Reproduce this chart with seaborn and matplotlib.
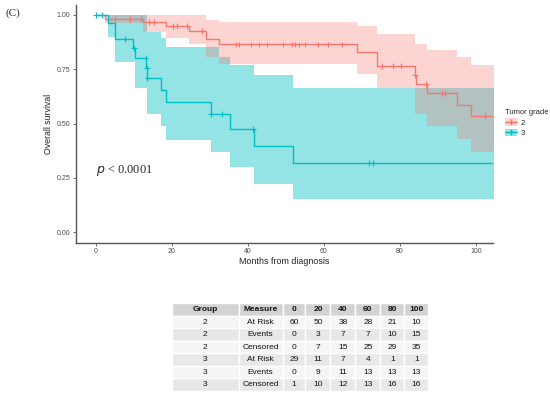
import numpy as np
import pandas as pd
import matplotlib
matplotlib.use("Agg")
import matplotlib.pyplot as plt
import seaborn as sns
from matplotlib.patches import Patch
from matplotlib.lines import Line2D

# ---------------- data ----------------
grades = ["2", "3"]
colors = {"2": "#F8766D", "3": "#00BFC4"}

times_2 = [0, 2.3, 12.4, 18.5, 24.6, 29.0, 32.4, 68.8, 74.1, 84.0, 84.3, 87.1, 95.0, 98.8, 105.0]
surv_2 = [1.0, 0.983, 0.967, 0.948, 0.928, 0.889, 0.864, 0.830, 0.763, 0.724, 0.683, 0.640, 0.585, 0.533, 0.533]
lower_2 = [1.0, 0.963, 0.923, 0.892, 0.865, 0.808, 0.776, 0.728, 0.666, 0.545, 0.545, 0.491, 0.428, 0.371, 0.371]
upper_2 = [1.0, 1.0, 1.0, 1.0, 1.0, 0.977, 0.966, 0.947, 0.912, 0.866, 0.866, 0.837, 0.806, 0.771, 0.771]
cens_2 = [5.1, 9.0, 12.0, 14.0, 15.2, 20.4, 21.4, 23.9, 27.9, 36.8, 37.8, 40.9, 43.0, 45.0,
          49.2, 51.6, 52.3, 53.6, 55.1, 58.4, 61.1, 64.7, 75.3, 78.3, 80.3, 84.1, 86.9,
          91.1, 91.9, 102.4]

times_3 = [0, 3.3, 5.1, 9.9, 10.2, 13.3, 13.5, 17.2, 18.5, 30.3, 35.3, 41.7, 51.8, 105.0]
surv_3 = [1.0, 0.963, 0.889, 0.848, 0.802, 0.758, 0.710, 0.655, 0.599, 0.544, 0.476, 0.399, 0.318, 0.318]
band_times_3 = [0, 3.3, 5.1, 10.2, 13.4, 17.2, 18.5, 30.3, 32.4, 35.3, 41.7, 51.8, 105.0]
lower_3 = [1.0, 0.899, 0.784, 0.666, 0.545, 0.487, 0.425, 0.369, 0.369, 0.300, 0.221, 0.152, 0.152]
upper_3 = [1.0, 1.0, 1.0, 1.0, 0.923, 0.892, 0.854, 0.854, 0.808, 0.768, 0.722, 0.664, 0.664]
cens_3 = [0.1, 1.7, 7.8, 10.0, 13.1, 13.4, 13.6, 30.4, 33.2, 41.5, 72.0, 73.0]

x_ticks = [0, 20, 40, 60, 80, 100]
y_ticks = [0.0, 0.25, 0.50, 0.75, 1.00]
y_ticklabels = ["0.00", "0.25", "0.50", "0.75", "1.00"]

table_columns = ["Group", "Measure", "0", "20", "40", "60", "80", "100"]
table_group = ["2", "2", "2", "3", "3", "3"]
table_measure = ["At Risk", "Events", "Censored", "At Risk", "Events", "Censored"]
at_risk_2 = [60, 50, 38, 28, 21, 10]
events_2 = [0, 3, 7, 7, 10, 15]
censored_2 = [0, 7, 15, 25, 29, 35]
at_risk_3 = [29, 11, 7, 4, 1, 1]
events_3 = [0, 9, 11, 13, 13, 13]
censored_3 = [1, 10, 12, 13, 16, 16]

# ---------------- frames ----------------
curves = pd.concat([
    pd.DataFrame({"time": times_2, "surv": surv_2, "grade": "2"}),
    pd.DataFrame({"time": times_3, "surv": surv_3, "grade": "3"}),
], ignore_index=True)

def step_at(ts, ss, t):
    idx = np.searchsorted(np.asarray(ts), np.asarray(t), side="right") - 1
    return np.asarray(ss)[idx]

cens = pd.concat([
    pd.DataFrame({"time": cens_2, "surv": step_at(times_2, surv_2, cens_2), "grade": "2"}),
    pd.DataFrame({"time": cens_3, "surv": step_at(times_3, surv_3, cens_3), "grade": "3"}),
], ignore_index=True)

# ---------------- figure ----------------
sns.set_theme(style="ticks")
plt.rcParams["font.family"] = ["Liberation Sans", "DejaVu Sans"]

fig = plt.figure(figsize=(5.5, 4.01), dpi=100)
ax = fig.add_axes([76 / 550, 1 - 242.7 / 401, (493.3 - 76) / 550, (242.7 - 4.5) / 401])

alpha_2, alpha_3 = 0.3, 0.42
ax.fill_between(band_times_3, lower_3, upper_3, step="post", color=colors["3"], alpha=alpha_3, lw=0, zorder=1)
ax.fill_between(times_2, lower_2, upper_2, step="post", color=colors["2"], alpha=alpha_2, lw=0, zorder=1.1)

sns.lineplot(data=curves, x="time", y="surv", hue="grade", palette=colors,
             drawstyle="steps-post", estimator=None, sort=False, lw=1.0,
             legend=False, ax=ax, zorder=3)
sns.scatterplot(data=cens, x="time", y="surv", hue="grade", palette=colors,
                marker="+", s=18, linewidth=0.8, legend=False, ax=ax, zorder=4)

ax.set_xlim(-5.2, 104.6)
ax.set_ylim(-0.048, 1.048)
ax.set_xticks(x_ticks)
ax.set_yticks(y_ticks)
ax.set_yticklabels(y_ticklabels)
for s in ["top", "right"]:
    ax.spines[s].set_visible(False)
for s in ["left", "bottom"]:
    ax.spines[s].set_color("#555555")
    ax.spines[s].set_linewidth(1.0)
ax.tick_params(axis="both", labelsize=5, colors="#555555", labelcolor="#4D4D4D",
               length=2, width=0.6, pad=2)
ax.set_xlabel("Months from diagnosis", fontsize=6.4, labelpad=1.5, color="#222222")
ax.set_ylabel("Overall survival", fontsize=6.3, labelpad=3, color="#222222")

ax.text(0, 0.283, r"$p$ < 0.0001", fontsize=9, va="center", ha="left",
        family=["Liberation Serif", "DejaVu Serif"])
fig.text(5 / 550, 1 - 13 / 401, "(C)", fontsize=8, va="center", ha="left",
         family=["Liberation Serif", "DejaVu Serif"])

handles = [(Patch(facecolor=colors[g], alpha=alpha_2 if g == "2" else alpha_3, lw=0),
            Line2D([], [], color=colors[g], marker="+", markersize=4.5, lw=1.0))
           for g in grades]
leg = fig.legend(handles, grades, title="Tumor grade", loc="upper left",
                 bbox_to_anchor=(500 / 550, 1 - 104 / 401), frameon=False,
                 fontsize=5.5, title_fontsize=5.5, handlelength=1.5, handleheight=1.2,
                 handletextpad=0.5, labelspacing=0.25, borderpad=0.2)
leg._legend_box.align = "left"

# ---------------- table ----------------
axt = fig.add_axes([171.7 / 550, 1 - 391 / 401, (428.3 - 171.7) / 550, (391 - 303.3) / 401])
axt.axis("off")
value_rows = [at_risk_2, events_2, censored_2, at_risk_3, events_3, censored_3]
cell_text = [[g, m] + [str(v) for v in vals]
             for g, m, vals in zip(table_group, table_measure, value_rows)]
row_colors = ["#F5F5F5", "#E8E8E8"]
cell_colours = [[row_colors[i % 2]] * len(table_columns) for i in range(len(cell_text))]
col_widths = np.array([67, 44, 23, 25, 25, 25, 24, 24], dtype=float)
col_widths = col_widths / col_widths.sum()
tbl = axt.table(cellText=cell_text, colLabels=table_columns, cellColours=cell_colours,
                colColours=["#D3D3D3"] * len(table_columns), colWidths=col_widths,
                cellLoc="center", bbox=[0, 0, 1, 1])
tbl.auto_set_font_size(False)
for (r, c), cell in tbl.get_celld().items():
    cell.set_edgecolor("white")
    cell.set_linewidth(1.0)
    cell.get_text().set_fontsize(6)
    cell.get_text().set_color("#111111")
    if r == 0:
        cell.get_text().set_fontweight("bold")

fig.savefig("out.png", dpi=100)
